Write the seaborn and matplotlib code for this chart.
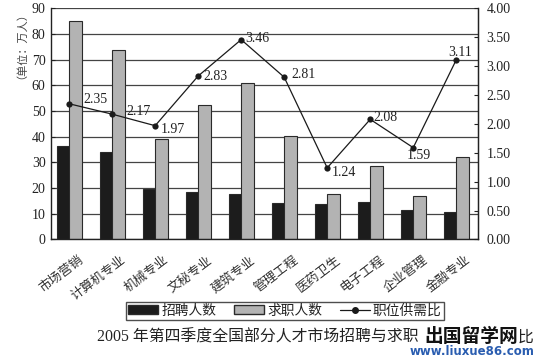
import matplotlib
matplotlib.use('Agg')
import matplotlib.pyplot as plt
import matplotlib.transforms as mtransforms
import seaborn as sns
import pandas as pd
from matplotlib.patches import Patch
from matplotlib.lines import Line2D

categories = ['市场营销', '计算机专业', '机械专业', '文秘专业', '建筑专业',
              '管理工程', '医药卫生', '电子工程', '企业管理', '金融专业']
recruit = [36.3, 34.1, 19.8, 18.4, 17.6, 14.4, 14.0, 14.5, 11.5, 10.8]
seekers = [85.2, 74.0, 39.0, 52.3, 61.0, 40.5, 17.8, 28.8, 17.0, 32.0]
ratio = [2.35, 2.17, 1.97, 2.83, 3.46, 2.81, 1.24, 2.08, 1.59, 3.11]
series = ['招聘人数', '求职人数']
line_name = '职位供需比'
# text offsets (points) for the ratio labels
label_off = [(10, 3), (10, 2), (4, -3), (4, 0), (3, 1), (5, 2), (3, -3), (2, 1), (4, -6), (3, 5)]
label_ha = ['left'] * 8 + ['center', 'center']

sns.set_style('white')
plt.rcParams['font.family'] = ['Liberation Serif', 'Noto Sans CJK SC', 'DejaVu Sans']
plt.rcParams['text.color'] = '#222222'

df = pd.DataFrame({
    'cat': categories * 2,
    'val': recruit + seekers,
    'series': [series[0]] * len(categories) + [series[1]] * len(categories),
})

fig = plt.figure(figsize=(5.49, 3.61), dpi=100)
ax = fig.add_axes([0.093, 0.3366, 0.778, 0.64])

ax.yaxis.grid(True, color='#444444', linewidth=0.9, zorder=0)
ax.set_axisbelow(True)
sns.barplot(data=df, x='cat', y='val', hue='series', order=categories,
            palette=['#1c1c1c', '#b3b3b3'], width=0.58, gap=0,
            edgecolor='#2a2a2a', linewidth=0.8, ax=ax, legend=False, zorder=2)

ax.set_ylim(0, 90)
ax.set_yticks(range(0, 91, 10))
ax.set_xlim(-0.42, 9.51)
ax.set_xlabel('')
ax.set_ylabel('')
for s in ['left', 'bottom', 'right']:
    ax.spines[s].set_color('#222222')
    ax.spines[s].set_linewidth(1.0)
ax.spines['top'].set_visible(False)
ax.tick_params(axis='y', direction='in', length=3, labelsize=10, colors='#222222', pad=4)
ax.tick_params(axis='x', length=0, pad=2)
ax.set_xticks(range(len(categories)))
ax.set_xticklabels(categories, rotation=37, ha='right', rotation_mode='anchor',
                   fontsize=9.3, color='#333333')
shift = mtransforms.ScaledTranslation(0.09, -0.12, fig.dpi_scale_trans)
for lab in ax.get_xticklabels():
    lab.set_transform(lab.get_transform() + shift)

ax2 = ax.twinx()
ax2.set_ylim(0, 4)
ax2.set_yticks([i * 0.5 for i in range(9)])
ax2.set_yticklabels(['%.2f' % (i * 0.5) for i in range(9)])
ax2.tick_params(axis='y', direction='in', length=3, labelsize=10, colors='#222222', pad=6)
for s in ['top', 'left', 'bottom']:
    ax2.spines[s].set_visible(False)
ax2.spines['right'].set_color('#222222')
sns.lineplot(x=list(range(len(categories))), y=ratio, ax=ax2, color='#1a1a1a',
             linewidth=0.9, marker='o', markersize=4.5, markeredgewidth=0)
for i, r in enumerate(ratio):
    ax2.annotate('%.2f' % r, (i, r), xytext=label_off[i], textcoords='offset points',
                 ha=label_ha[i], va='center', fontsize=10, color='#222222')

fig.text(0.029, 0.89, '（单位：万人）', rotation=90, ha='center', va='center',
         fontsize=8, color='#444444')

handles = [Patch(facecolor='#1c1c1c', edgecolor='#2a2a2a'),
           Patch(facecolor='#b3b3b3', edgecolor='#2a2a2a'),
           Line2D([0], [0], color='#1a1a1a', lw=0.9, marker='o', markersize=4)]
fig.legend(handles, series + [line_name], loc='center', bbox_to_anchor=(0.519, 0.1385),
           ncol=3, frameon=True, fancybox=False, edgecolor='#222222', fontsize=9.9,
           handlelength=2.2, handleheight=0.6, columnspacing=1.3, handletextpad=0.2,
           borderpad=0.15)

fig.text(0.177, 0.064, '2005 年第四季度全国部分人才市场招聘与求职',
         ha='left', va='center', fontsize=11.4, color='#222222')
fig.text(0.942, 0.064, '比', ha='left', va='center', fontsize=11.4, color='#222222')
fig.text(0.859, 0.067, '出国留学网', ha='center', va='center', fontsize=13.5,
         fontweight='bold', color='#111111')
fig.text(0.86, 0.025, 'www.liuxue86.com', ha='center', va='center', fontsize=8.5,
         fontweight='bold', color='#2a5db0', family='DejaVu Sans')

fig.savefig('out.png', dpi=100, facecolor='white')
